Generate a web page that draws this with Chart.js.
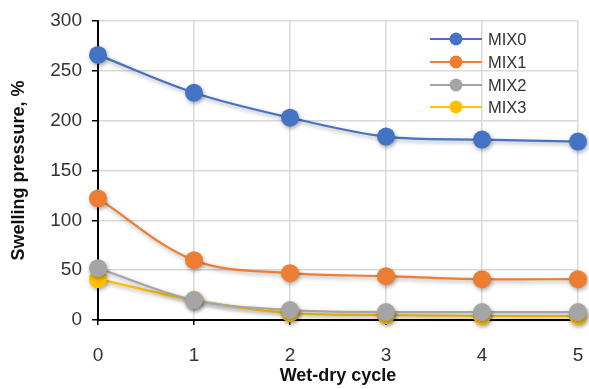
<!DOCTYPE html>
<html><head><meta charset="utf-8">
<script src="https://cdn.jsdelivr.net/npm/chart.js@4/dist/chart.umd.min.js"></script>
<style>html,body{margin:0;padding:0;background:#fff}#w{width:589px;height:389px}</style>
</head><body><div id="w"><canvas id="c" width="589" height="389"></canvas></div>
<script>
const cycles = [0, 1, 2, 3, 4, 5];
const seriesNames = ["MIX0", "MIX1", "MIX2", "MIX3"];
const mix0 = [266, 228, 203, 184, 181, 179];
const mix1 = [122, 60, 47, 44, 41, 41];
const mix2 = [52, 20, 10, 8, 8, 8];
const mix3 = [41, 20, 7, 5, 4, 4];
const colors = ["#4472C4", "#ED7D31", "#A5A5A5", "#FFC000"];
const FONT = "'Liberation Sans', Arial, sans-serif";

const allValues = [mix0, mix1, mix2, mix3];
const datasets = allValues.map((vals, i) => ({
  label: seriesNames[i],
  data: cycles.map((x, j) => ({x: x, y: vals[j]})),
  borderColor: colors[i],
  backgroundColor: colors[i],
  pointBackgroundColor: colors[i],
  pointBorderColor: colors[i],
  pointRadius: 9,
  pointBorderWidth: 0,
  borderWidth: 2.2,
  tension: 0.35,
  clip: false
}));

const shadowPlugin = {
  id: 'shadow',
  beforeDatasetsDraw(chart) {
    const ctx = chart.ctx;
    ctx.save();
    ctx.shadowColor = 'rgba(0,0,0,0.35)';
    ctx.shadowBlur = 4;
    ctx.shadowOffsetX = 1;
    ctx.shadowOffsetY = 2;
  },
  afterDatasetsDraw(chart) { chart.ctx.restore(); }
};

const legendPlugin = {
  id: 'inLegend',
  afterDraw(chart) {
    const ctx = chart.ctx;
    ctx.save();
    const rows = [39, 62, 85, 107];
    seriesNames.forEach((n, i) => {
      const y = rows[i];
      ctx.strokeStyle = colors[i];
      ctx.lineWidth = 2;
      ctx.beginPath(); ctx.moveTo(430, y); ctx.lineTo(482, y); ctx.stroke();
      ctx.fillStyle = colors[i];
      ctx.beginPath(); ctx.arc(456, y, 6.5, 0, Math.PI * 2); ctx.fill();
      ctx.fillStyle = '#333';
      ctx.font = "16.5px " + FONT;
      ctx.textBaseline = 'middle';
      ctx.textAlign = 'left';
      ctx.fillText(n, 488, y + 1);
    });
    ctx.restore();
  }
};

new Chart(document.getElementById('c'), {
  type: 'line',
  data: { datasets },
  options: {
    responsive: false,
    animation: false,
    layout: { padding: { top: 21, right: 11, left: 0, bottom: 0 } },
    plugins: { legend: { display: false }, tooltip: { enabled: false } },
    scales: {
      x: {
        type: 'linear', min: 0, max: 5,
        ticks: { stepSize: 1, color: '#333', font: { family: FONT, size: 19 }, padding: 19 },
        grid: { color: '#d9d9d9', lineWidth: 1.5, tickLength: 5, tickColor: '#000', drawTicks: true },
        border: { color: '#000', width: 2 },
        title: { display: true, text: 'Wet-dry cycle', color: '#111', font: { family: FONT, size: 18, weight: 'bold' }, padding: { top: 0, bottom: 2 } },
        afterFit(s) { s.height = 69; s.paddingLeft = 0; s.paddingRight = 0; }
      },
      y: {
        min: 0, max: 300,
        ticks: {
          stepSize: 25, color: '#333', font: { family: FONT, size: 19 }, padding: 10,
          callback: v => (v % 50 === 0 ? String(v) : '')
        },
        grid: {
          color: c => (c.tick && c.tick.value % 50 === 0 ? '#d9d9d9' : '#eeeeee'),
          lineWidth: 1.5, tickLength: 6, tickColor: '#000'
        },
        border: { color: '#000', width: 2 },
        title: { display: true, text: 'Swelling pressure, %', color: '#111', font: { family: FONT, size: 18, weight: 'bold' }, padding: { top: 8, bottom: 0 } },
        afterFit(s) { s.width = 98; s.paddingTop = 0; s.paddingBottom = 0; }
      }
    }
  },
  plugins: [shadowPlugin, legendPlugin]
});
</script></body></html>
